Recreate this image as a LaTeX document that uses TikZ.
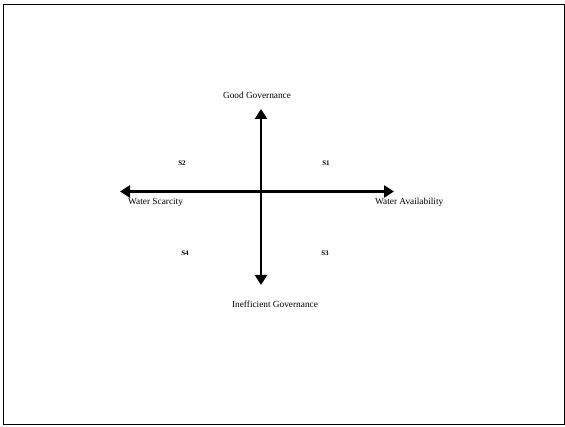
\documentclass[tikz,border=0pt]{standalone}
\usepackage{fontspec}
\setmainfont{Liberation Serif}
\usetikzlibrary{arrows.meta}
\begin{document}
\begin{tikzpicture}[x=1pt,y=-1pt,
  axis/.style={line width=2.6pt,-{Triangle[length=10pt,width=12pt]}},
  lbl/.style={font=\fontsize{9.3}{11}\selectfont,inner sep=0pt},
  slbl/.style={font=\fontsize{7}{8}\selectfont\bfseries,inner sep=0pt},
  frame/.style={draw=black,line width=0.9pt}]
\useasboundingbox (0,0) rectangle (565,427);
\draw[frame] (3,4.5) rectangle (564,424);
\coordinate (o) at (261,191.5);
\coordinate (top) at (261,109);
\coordinate (bot) at (261,285);
\coordinate (lft) at (120,191.5);
\coordinate (rgt) at (394,191.5);
\draw[axis] (o) -- (top);
\draw[axis] (o) -- (bot);
\draw[axis] (o) -- (lft);
\draw[axis] (o) -- (rgt);
\node[lbl] (good) at (257,95) {Good Governance};
\node[lbl] (ineff) at (275,304) {Inefficient Governance};
\node[lbl,anchor=west] (scar) at (128,202) {Water Scarcity};
\node[lbl,anchor=west] (avail) at (375,202) {Water Availability};
\node[slbl] (s1) at (326,163) {S1};
\node[slbl] (s2) at (182,163) {S2};
\node[slbl] (s3) at (325,253) {S3};
\node[slbl] (s4) at (185,253) {S4};
\end{tikzpicture}
\end{document}
